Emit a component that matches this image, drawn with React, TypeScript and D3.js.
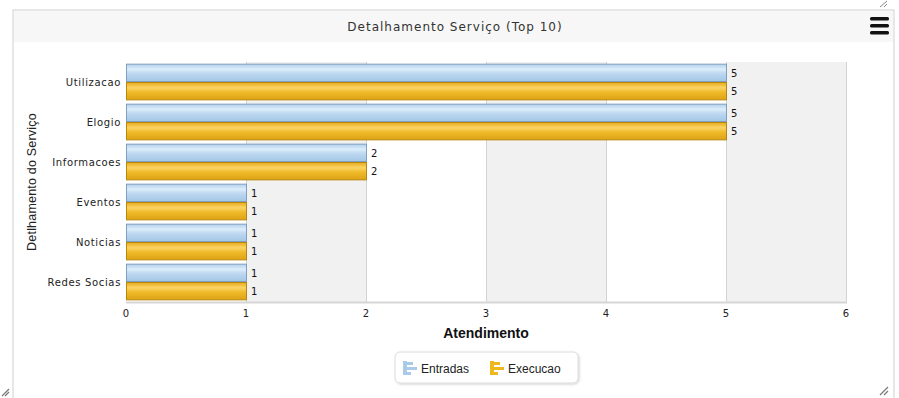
import React from "react";
import * as d3 from "d3";

const categories = ["Utilizacao", "Elogio", "Informacoes", "Eventos", "Noticias", "Redes Socias"];
const entradas = [5, 5, 2, 1, 1, 1];
const execucao = [5, 5, 2, 1, 1, 1];
const seriesNames = ["Entradas", "Execucao"];
const xTicks = [0, 1, 2, 3, 4, 5, 6];

const W = 899;
const H = 398;

export default function App() {
  const x = d3.scaleLinear().domain([0, 6]).range([126, 846]);
  const y = d3.scaleBand<string>().domain(categories).range([62, 302]);
  const inner = d3.scaleBand<string>().domain(seriesNames).range([0, y.bandwidth()]).paddingOuter(0.09);
  const series = [
    { name: "Entradas", values: entradas, fill: "url(#gBlue)", stroke: "#7f9fbf" },
    { name: "Execucao", values: execucao, fill: "url(#gOrange)", stroke: "#b8870e" },
  ];
  const bands = d3.range(1, 6, 2);

  return (
    <svg width={W} height={H} style={{ position: "absolute", left: 0, top: 0, background: "#fff" }}>
      <defs>
        <linearGradient id="gBlue" x1="0" y1="0" x2="0" y2="1">
          <stop offset="0%" stopColor="#b3d1ec" />
          <stop offset="30%" stopColor="#dcedfa" />
          <stop offset="55%" stopColor="#bcd8f0" />
          <stop offset="100%" stopColor="#a4c6e5" />
        </linearGradient>
        <linearGradient id="gOrange" x1="0" y1="0" x2="0" y2="1">
          <stop offset="0%" stopColor="#e8ab18" />
          <stop offset="30%" stopColor="#f9d466" />
          <stop offset="55%" stopColor="#f0bb2a" />
          <stop offset="100%" stopColor="#dca214" />
        </linearGradient>
        <filter id="sh" x="-10%" y="-20%" width="120%" height="150%">
          <feDropShadow dx="1" dy="1" stdDeviation="1.2" floodColor="#000" floodOpacity="0.18" />
        </filter>
      </defs>
      {/* panel */}
      <rect x={13} y={10} width={881} height={400} fill="#fff" stroke="#cfcfcf" />
      <rect x={14} y={11} width={879} height={31} fill="#f7f7f7" />
      <text x={455} y={31} textAnchor="middle" fontFamily="DejaVu Sans" fontSize={12} letterSpacing={1} fill="#333">
        Detalhamento Serviço (Top 10)
      </text>
      {[17, 24, 31].map((yy) => (
        <rect key={yy} x={870} y={yy} width={19} height={3.5} rx={1.5} fill="#111" />
      ))}
      {/* plot bands */}
      {bands.map((b) => (
        <rect key={b} x={x(b)} y={62} width={x(b + 1) - x(b)} height={240} fill="#f1f1f1" />
      ))}
      {xTicks.slice(1).map((t) => (
        <line key={t} x1={x(t) + 0.5} x2={x(t) + 0.5} y1={62} y2={302} stroke="#d3d3d3" />
      ))}
      <line x1={126} x2={847} y1={302.5} y2={302.5} stroke="#d6d6d6" strokeWidth={2} />
      {/* bars */}
      {categories.map((c, i) =>
        series.map((s) => {
          const yy = (y(c) as number) + (inner(s.name) as number);
          const h = inner.bandwidth();
          const w = x(s.values[i]) - x(0);
          return (
            <g key={c + s.name}>
              <rect x={x(0) + 0.5} y={yy + 0.5} width={w} height={h - 1} fill={s.fill} stroke={s.stroke} />
              <text x={x(s.values[i]) + 5} y={yy + h / 2 + 4} fontFamily="DejaVu Sans" fontSize={10} fill="#111">
                {s.values[i]}
              </text>
            </g>
          );
        })
      )}
      {/* category labels */}
      {categories.map((c) => (
        <text key={c} x={121} y={(y(c) as number) + y.bandwidth() / 2 + 4} textAnchor="end" fontFamily="DejaVu Sans" fontSize={10} letterSpacing={0.65} fill="#222">
          {c}
        </text>
      ))}
      {/* x ticks */}
      {xTicks.map((t) => (
        <text key={t} x={x(t)} y={317} textAnchor="middle" fontFamily="DejaVu Sans" fontSize={10} fill="#222">
          {t}
        </text>
      ))}
      <text x={486} y={338} textAnchor="middle" fontFamily="Liberation Sans" fontWeight="bold" fontSize={14} fill="#111">
        Atendimento
      </text>
      <text transform="translate(36,182) rotate(-90)" textAnchor="middle" fontFamily="Liberation Sans" fontSize={12.5} letterSpacing={0.2} fill="#222">
        Detlhamento do Serviço
      </text>
      {/* legend */}
      <rect x={395} y={352} width={183} height={31} rx={5} fill="#fff" stroke="#dcdcdc" filter="url(#sh)" />
      {[
        { name: seriesNames[0], x0: 403, c: "#a9cbe9" },
        { name: seriesNames[1], x0: 490, c: "#f0b820" },
      ].map((l) => (
        <g key={l.name}>
          <rect x={l.x0} y={361} width={4} height={14} fill={l.c} />
          <rect x={l.x0} y={362} width={10} height={3} fill={l.c} />
          <rect x={l.x0} y={367} width={14} height={3} fill={l.c} />
          <rect x={l.x0} y={372} width={8} height={3} fill={l.c} />
          <text x={l.x0 + 18} y={373} fontFamily="Liberation Sans" fontSize={12} fill="#222">
            {l.name}
          </text>
        </g>
      ))}
      {/* resize handles */}
      <path d="M880 7 L887 1 M884 7 L887 4" stroke="#888" strokeWidth={1} />
      <path d="M880 395 L888 387 M884 395 L888 391" stroke="#777" strokeWidth={1.2} />
      <path d="M2 396 L9 389 M5 396 L9 392" stroke="#777" strokeWidth={1.2} />
    </svg>
  );
}
